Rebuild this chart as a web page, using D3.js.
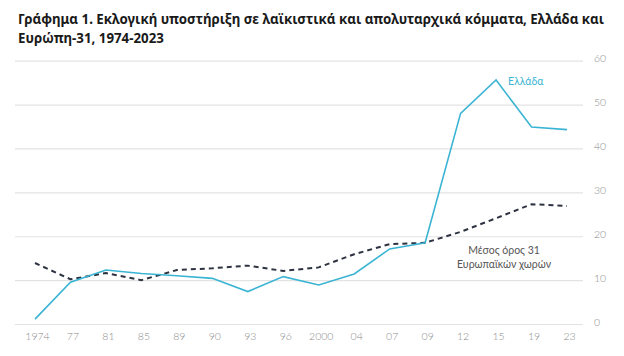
<!DOCTYPE html>
<html><head><meta charset="utf-8">
<script src="https://cdn.jsdelivr.net/npm/d3@7/dist/d3.min.js"></script>
<style>body{margin:0;background:#fff}svg{display:block}</style>
</head><body><svg id="c" width="624" height="356"></svg>
<script>
const years = ["1974","77","81","85","89","90","93","96","2000","04","07","09","12","15","19","23"];
const greece = [1.1,9.5,12.3,11.5,11.0,10.4,7.4,10.8,8.9,11.4,17.1,18.5,48.0,55.6,44.9,44.3];
const europe31 = [13.9,10.2,11.6,10.0,12.3,12.7,13.3,12.1,12.9,15.9,18.2,18.5,21.0,24.1,27.3,26.9];
const yTicks = [0,10,20,30,40,50,60];
const titleLines = ["Γράφημα 1. Εκλογική υποστήριξη σε λαϊκιστικά και απολυταρχικά κόμματα, Ελλάδα και","Ευρώπη-31, 1974-2023"];
const greeceLabel = "Ελλάδα";
const europeLabel = ["Μέσος όρος 31","Ευρωπαϊκών χωρών"];

const svg = d3.select("#c");
const x = d3.scalePoint().domain(years).range([35,567]);
const y = d3.scaleLinear().domain([0,60]).range([324,60.7]);

svg.append("g").selectAll("text").data(titleLines).join("text")
  .attr("x",18).attr("y",(d,i)=>24+i*19)
  .attr("font-family","'Noto Sans'").attr("font-weight",700).attr("font-size",13.3)
  .attr("fill","#1a1a1a").text(d=>d);

const yAxis = d3.axisRight(y).tickValues(yTicks).tickSize(568).tickPadding(11).tickFormat(d3.format("d"));
const gy = svg.append("g").attr("transform","translate(15,0)").call(yAxis);
gy.select(".domain").remove();
gy.selectAll(".tick line").attr("stroke","#e3e3e3").attr("stroke-width",1.2);
gy.selectAll(".tick text").attr("font-family","Lato").attr("font-weight",300).attr("font-size",10.5).attr("fill","#8a8a8a").attr("dy","0.1em");

const xAxis = d3.axisBottom(x).tickSize(0).tickPadding(0);
const gx = svg.append("g").attr("transform","translate(2,333)").call(xAxis);
gx.select(".domain").remove();
gx.selectAll(".tick text").attr("font-family","Lato").attr("font-weight",300).attr("font-size",10.5).attr("fill","#8a8a8a").attr("dy","0.71em");

const line = d3.line().x((d,i)=>x(years[i])).y(d=>y(d));
svg.append("path").datum(europe31).attr("d",line).attr("fill","none")
  .attr("stroke","#2d3340").attr("stroke-width",2).attr("stroke-dasharray","5,4");
svg.append("path").datum(greece).attr("d",line).attr("fill","none")
  .attr("stroke","#3bb4d4").attr("stroke-width",1.6);

svg.append("text").attr("x",x("15")+12).attr("y",y(55.6)+5).attr("font-family","Lato").attr("font-size",10.5)
  .attr("fill","#3bb4d4").text(greeceLabel);
svg.append("g").selectAll("text").data(europeLabel).join("text")
  .attr("x",x("15")+8).attr("y",(d,i)=>y(18)+ 9 + i*13.5).attr("text-anchor","middle")
  .attr("font-family","Lato").attr("font-size",10.5).attr("fill","#555").text(d=>d);
</script></body></html>
